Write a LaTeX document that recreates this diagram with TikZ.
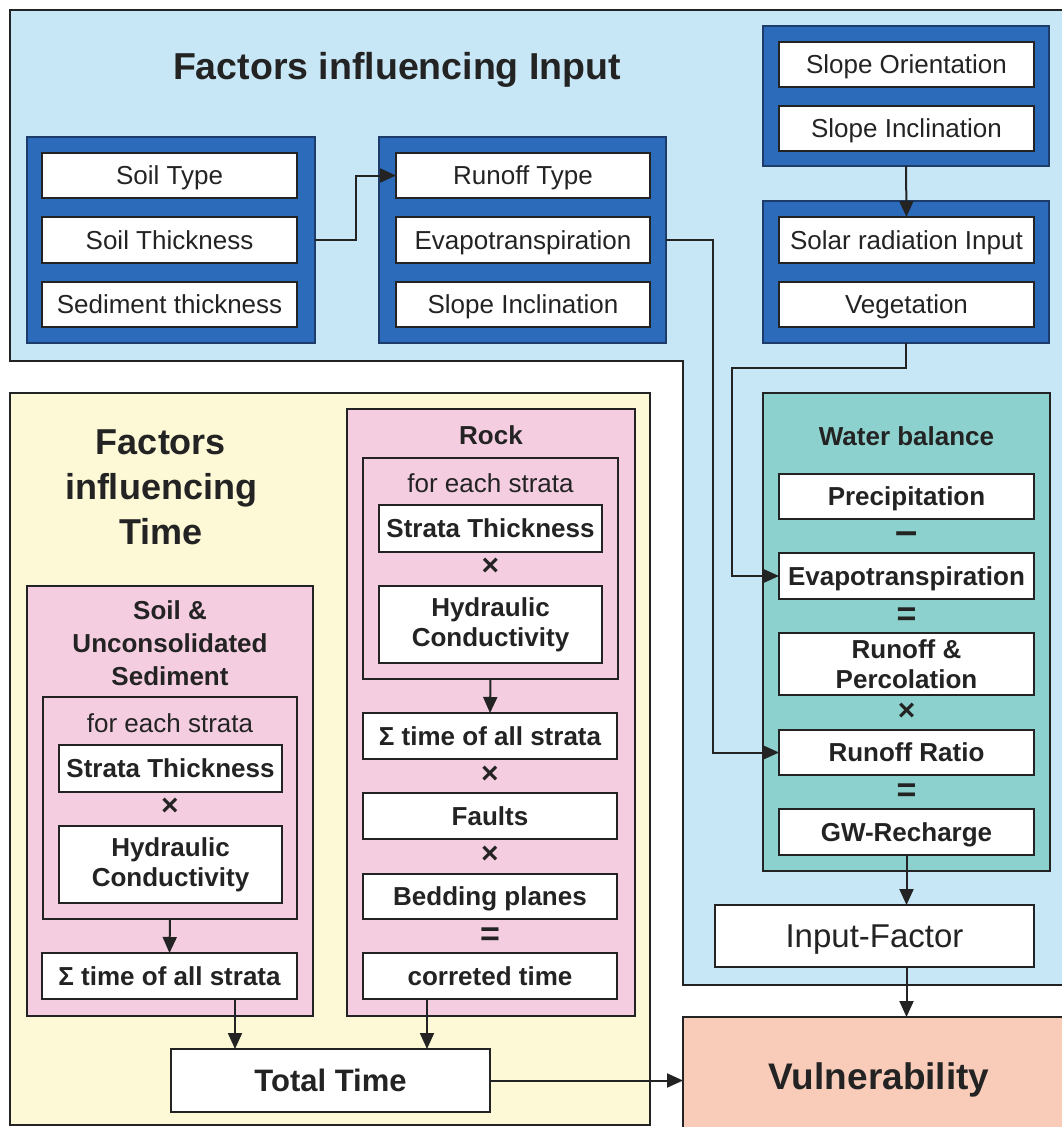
\documentclass[tikz,border=0pt]{standalone}
\usepackage{fontspec}
\setmainfont{Liberation Sans}
\usetikzlibrary{arrows.meta}

\definecolor{inbg}{RGB}{199,231,246}
\definecolor{grpblue}{RGB}{44,106,186}
\definecolor{grpedge}{RGB}{30,60,105}
\definecolor{timebg}{RGB}{253,249,215}
\definecolor{rosebg}{RGB}{244,206,224}
\definecolor{waterbg}{RGB}{140,209,205}
\definecolor{vulnbg}{RGB}{248,204,184}
\definecolor{ink}{RGB}{35,35,35}

\begin{document}
\begin{tikzpicture}[x=1pt,y=-1pt,
  every node/.style={inner sep=0pt, outer sep=0pt, text=ink},
  frame/.style={draw=ink, line width=1.7pt},
  group/.style={draw=grpedge, fill=grpblue, line width=1.5pt, rectangle},
  item/.style={frame, fill=white, rectangle, font=\fontsize{26}{30}\selectfont, align=center},
  bitem/.style={item, font=\fontsize{26}{30}\selectfont\bfseries},
  one/.style={text height=18.5pt, text depth=0pt},
  panel/.style={frame, rectangle},
  head/.style={one, font=\fontsize{26}{30}\selectfont\bfseries},
  note/.style={one, font=\fontsize{26}{30}\selectfont},
  op/.style={font=\fontsize{30}{30}\selectfont\bfseries},
  bigop/.style={font=\fontsize{34}{34}\selectfont\bfseries},
  link/.style={draw=ink, line width=2pt},
  arr/.style={link, -{Triangle[length=16pt,width=14pt]}},
]
\useasboundingbox (0,0) rectangle (1062,1127);
\clip (0,0) rectangle (1062,1127);
\fill[white] (0,0) rectangle (1062,1127);

% ---------- input factors region ----------
\filldraw[frame, fill=inbg] (10,10) -- (1080,10) -- (1080,985) -- (683,985)
  -- (683,361) -- (10,361) -- cycle;
\node[font=\fontsize{37.5}{45}\selectfont\bfseries] (tin) at (397,70) {Factors influencing Input};

\node[group, minimum width=288pt, minimum height=206pt] (gA) at (171,240) {};
\node[item, one, minimum width=255pt, minimum height=45pt] (soiltype) at (169.5,175.5) {Soil Type};
\node[item, one, minimum width=255pt, minimum height=46pt] (soilthick) at (169.5,240) {Soil Thickness};
\node[item, one, minimum width=255pt, minimum height=45pt] (sedthick) at (169.5,304.5) {Sediment thickness};

\node[group, minimum width=287pt, minimum height=206pt] (gB) at (522.5,240) {};
\node[item, one, minimum width=254pt, minimum height=45pt] (runofftype) at (523,175.5) {Runoff Type};
\node[item, one, minimum width=254pt, minimum height=46pt] (evapo) at (523,240) {Evapotranspiration};
\node[item, one, minimum width=254pt, minimum height=45pt] (slopeinclA) at (523,304.5) {Slope Inclination};

\node[group, minimum width=286pt, minimum height=140pt] (gC) at (906,96) {};
\node[item, one, minimum width=255pt, minimum height=45pt] (slopeor) at (906.5,64.5) {Slope Orientation};
\node[item, one, minimum width=255pt, minimum height=45pt] (slopeinclB) at (906.5,128.5) {Slope Inclination};

\node[group, minimum width=286pt, minimum height=142pt] (gD) at (906,272) {};
\node[item, one, minimum width=255pt, minimum height=46pt] (solar) at (906.5,240) {Solar radiation Input};
\node[item, one, minimum width=255pt, minimum height=45pt] (veg) at (906.5,304.5) {Vegetation};

% ---------- water balance ----------
\node[panel, fill=waterbg, minimum width=287pt, minimum height=478pt] (wb) at (906.5,632) {};
\node[head] (wbt) at (906.5,436) {Water balance};
\node[bitem, one, minimum width=255pt, minimum height=45pt] (precip) at (906.5,496.5) {Precipitation};
\node[font=\fontsize{40}{40}\selectfont\bfseries] (wbminus) at (906.5,538) {–};
\node[bitem, one, minimum width=255pt, minimum height=46pt] (wbevapo) at (906.5,576) {Evapotranspiration};
\node[bigop] (wbeqA) at (906.5,617) {=};
\node[bitem, minimum width=255pt, minimum height=62pt] (runperc) at (906.5,664) {Runoff \&\\Percolation};
\node[op] (wbtimes) at (906.5,712) {×};
\node[bitem, one, minimum width=255pt, minimum height=45pt] (rratio) at (906.5,752.5) {Runoff Ratio};
\node[bigop] (wbeqB) at (906.5,793) {=};
\node[bitem, one, minimum width=255pt, minimum height=46pt] (gwr) at (906.5,832) {GW-Recharge};

\node[item, minimum width=319pt, minimum height=62pt, text height=23pt, text depth=0pt,
  font=\fontsize{33}{38}\selectfont] (inpf) at (874.5,936) {Input-Factor};

% ---------- vulnerability ----------
\node[panel, fill=vulnbg, minimum width=392pt, minimum height=118pt, text height=26pt, text depth=0pt,
  font=\fontsize{37}{44}\selectfont\bfseries] (vuln) at (879,1076) {Vulnerability};

% ---------- time factors region ----------
\node[panel, fill=timebg, minimum width=640pt, minimum height=732pt] (timep) at (330,759) {};
\node[font=\fontsize{36}{45}\selectfont\bfseries, align=center] (ttime) at (161,487) {Factors\\influencing\\Time};

% soil and unconsolidated sediment
\node[panel, fill=rosebg, minimum width=286pt, minimum height=430pt] (soilp) at (170,801) {};
\node[font=\fontsize{26}{33}\selectfont\bfseries, align=center] (soilt) at (170,643) {Soil \&\\Unconsolidated\\Sediment};
\node[panel, minimum width=254pt, minimum height=222pt] (eachA) at (170,808) {};
\node[note] (feA) at (170,723) {for each strata};
\node[bitem, one, minimum width=223pt, minimum height=47pt] (stA) at (170.5,768.5) {Strata Thickness};
\node[op] (xA) at (170,807) {×};
\node[bitem, minimum width=223pt, minimum height=77pt] (hcA) at (170.5,864.5) {Hydraulic\\Conductivity};
\node[bitem, one, minimum width=255pt, minimum height=46pt] (sumA) at (169.5,976) {Σ time of all strata};

% rock
\node[panel, fill=rosebg, minimum width=288pt, minimum height=607pt] (rockp) at (491,712.5) {};
\node[head] (rockt) at (491,435) {Rock};
\node[panel, minimum width=255pt, minimum height=221pt] (eachB) at (490.5,568.5) {};
\node[note] (feB) at (490.5,483) {for each strata};
\node[bitem, one, minimum width=223pt, minimum height=47pt] (stB) at (490.5,528.5) {Strata Thickness};
\node[op] (xB) at (490.5,567) {×};
\node[bitem, minimum width=223pt, minimum height=77pt] (hcB) at (490.5,624.5) {Hydraulic\\Conductivity};
\node[bitem, one, minimum width=254pt, minimum height=46pt] (sumB) at (490,736) {Σ time of all strata};
\node[op] (xC) at (490,775) {×};
\node[bitem, one, minimum width=254pt, minimum height=46pt] (faults) at (490,816) {Faults};
\node[op] (xD) at (490,855) {×};
\node[bitem, one, minimum width=254pt, minimum height=45pt] (bedding) at (490,896.5) {Bedding planes};
\node[bigop] (eqR) at (490,937) {=};
\node[bitem, one, minimum width=254pt, minimum height=46pt] (corr) at (490,976) {correted time};

\node[bitem, minimum width=319pt, minimum height=63pt, text height=22pt, text depth=0pt,
  font=\fontsize{31}{36}\selectfont\bfseries] (total) at (330.5,1080.5) {Total Time};

% ---------- connectors ----------
\draw[arr] (gA.east |- soilthick.east) -- ++(41,0) |- (runofftype.west);
\draw[arr] (gC.south) -- (solar.north);
\coordinate (vegturn) at (732,368);
\draw[arr] (gD.south) |- (vegturn) |- (wbevapo.west);
\coordinate (evturn) at (713,240);
\draw[arr] (gB.east |- evapo.east) -- (evturn) |- (rratio.west);
\draw[arr] (gwr.south) -- (gwr.south |- inpf.north);
\draw[arr] (inpf.south -| gwr.south) -- (vuln.north -| gwr.south);
\draw[arr] (eachA.south) -- (sumA.north);
\draw[arr] (eachB.south) -- (sumB.north);
\coordinate (tsA) at (235,1000);
\draw[arr] (sumA.south -| tsA) -- (total.north -| tsA);
\coordinate (tsB) at (427,1000);
\draw[arr] (corr.south -| tsB) -- (total.north -| tsB);
\draw[arr] (total.east) -- (total.east -| vuln.west);
\end{tikzpicture}
\end{document}
